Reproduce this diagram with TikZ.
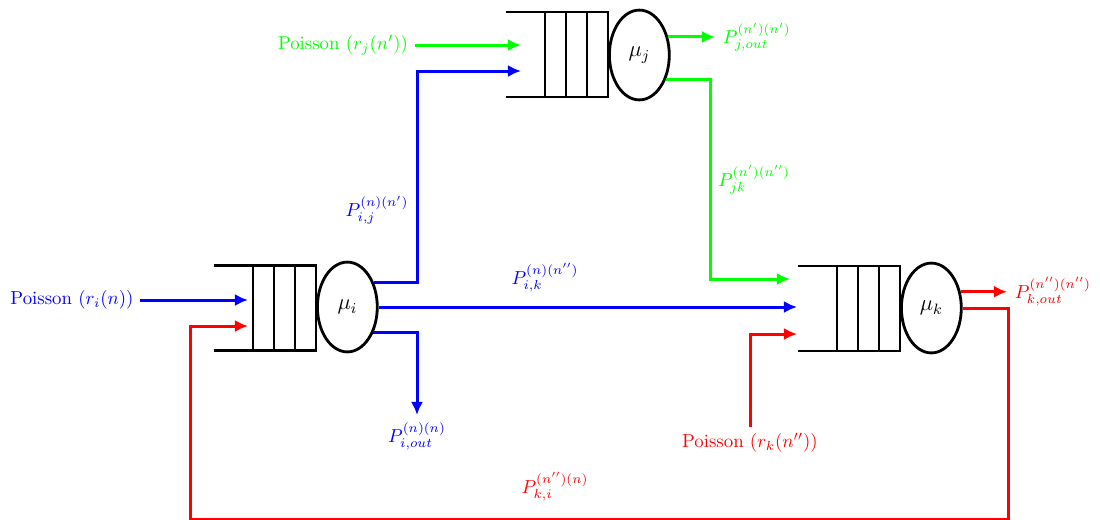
\documentclass[tikz,border=0pt]{standalone}
\usepackage{amsmath,amssymb}
\usetikzlibrary{shapes.geometric, arrows.meta, positioning}

\tikzset{
    queue/.pic={
        \draw[line width=1.5pt] (-102,-42.5) -- (0,-42.5) -- (0,42.5) -- (-102,42.5);
        \foreach \x in {-63,-42,-21}
            \draw[line width=1.5pt] (\x,-42.5) -- (\x,42.5);
    }
}

\begin{document}
\begin{tikzpicture}[
    x=0.0187cm, y=-0.0187cm, >={Latex[length=7pt,width=6.5pt]},
    flow/.style={->, line width=1.6pt},
    server/.style={ellipse, draw, line width=1.5pt, inner sep=0pt,
                   minimum width=1.12cm, minimum height=1.68cm, font=\large},
    lbl/.style={inner sep=1pt}
]
    \useasboundingbox (0,0) rectangle (1100,519);

    % queues and servers
    \pic at (316,308) {queue};
    \pic at (608,54.5) {queue};
    \pic at (900,308.5) {queue};
    \node[server, anchor=west] (mui) at (316,307) {$\mu_i$};
    \node[server, anchor=west] (muj) at (608,55)  {\raisebox{-3pt}{$\mu_j$}};
    \node[server, anchor=west] (muk) at (900,308) {\raisebox{-3pt}{$\mu_k$}};

    % sources
    \node[blue]  (srci) at (72,300)  {Poisson $(r_i(n))$};
    \node[green] (srcj) at (343,45)  {Poisson $(r_j(n'))$};
    \node[red]   (srck) at (750,443) {Poisson $(r_k(n''))$};

    % entry and exit points
    \coordinate (iin1) at (248,300);
    \coordinate (iin2) at (248,326);
    \coordinate (jin1) at (521,45);
    \coordinate (jin2) at (521,71);
    \coordinate (kin1) at (790,279);
    \coordinate (kin2) at (797,308);
    \coordinate (kin3) at (797,334);
    \coordinate (iout) at (417,415);
    \coordinate (jout) at (715,37);
    \coordinate (kout) at (1007,292);
    \coordinate (jdown) at (710,279);
    \coordinate (kback) at (1008,519.5);
    \coordinate (iback) at (190,519.5);

    % flows of i
    \draw[flow, blue] (srci) -- (iin1);
    \draw[flow, blue] (mui.42) -| (iout |- jin2) -- (jin2);
    \draw[flow, blue] (mui.east) -- (mui.east -| kin2);
    \draw[flow, blue] (mui.-45) -| (iout);

    % flows of j
    \draw[flow, green] (srcj) -- (jin1);
    \draw[flow, green] (muj.32) -- (muj.32 -| jout);
    \draw[flow, green] (muj.-42) -| (jdown) -- (kin1);

    % flows of k
    \draw[flow, red] (srck) |- (kin3);
    \draw[flow, red] (muk.29) -- (muk.29 -| kout);
    \draw[flow, red] (muk.east) -| (kback) -- (iback) |- (iin2);

    % routing probabilities
    \node[lbl, blue]  (pij)   at (377,210) {$P_{i,j}^{(n)(n')}$};
    \node[lbl, blue]  (pik)   at (545,278) {$P_{i,k}^{(n)(n'')}$};
    \node[lbl, blue, below=3pt of iout]  (piout) {$P_{i,out}^{(n)(n)}$};
    \node[lbl, green, right=3pt of jout] (pjout) {$P_{j,out}^{(n')(n')}$};
    \node[lbl, green] (pjk)   at (754,180) {$P_{jk}^{(n')(n'')}$};
    \node[lbl, red, right=3pt of kout]   (pkout) {$P_{k,out}^{(n'')(n'')}$};
    \node[lbl, red]   (pki)   at (555,487) {$P_{k,i}^{(n'')(n)}$};
\end{tikzpicture}
\end{document}
